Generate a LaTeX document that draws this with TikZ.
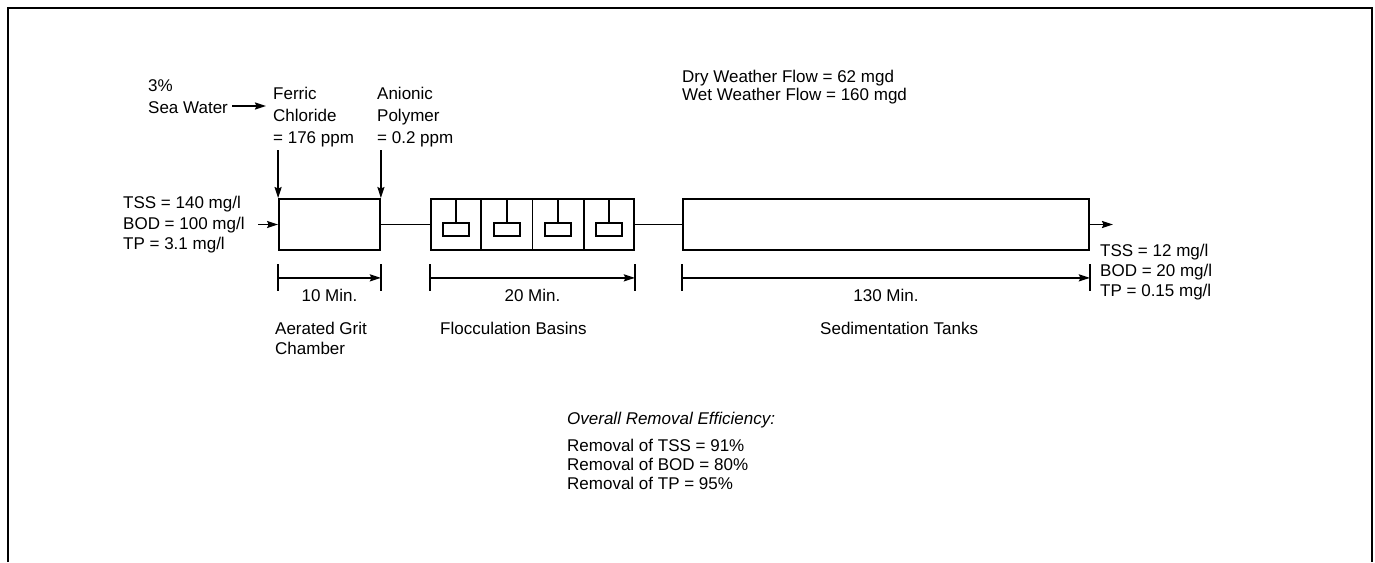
\documentclass[tikz,border=0pt]{standalone}
\usepackage{fontspec}
\setmainfont{Liberation Sans}
\usetikzlibrary{arrows.meta,positioning,calc}

\begin{document}
\begin{tikzpicture}[x=1pt,y=-1pt,font=\fontsize{17}{20}\selectfont,>={Stealth[length=11pt,width=7pt,inset=1.5pt]},
  tank/.style={draw,line width=1.8pt,inner sep=0pt},
  paddle/.style={draw,line width=1.8pt,minimum width=26pt,minimum height=13pt,inner sep=0pt},
  pipe/.style={line width=1.8pt},
  lbl/.style={inner sep=0pt,align=left,anchor=north west}]
\useasboundingbox (0,0) rectangle (1375,562);
\draw[line width=2pt] (8,562)--(8,8)--(1372,8)--(1372,562);
% tanks
\node[tank,minimum width=101pt,minimum height=51pt] (grit) at (329.5,224.5) {};
\node[tank,minimum width=203pt,minimum height=51pt] (floc) at (532.5,224.5) {};
\node[tank,minimum width=406pt,minimum height=51pt] (sed) at (886,224.5) {};
\foreach \i in {1,2,3}
  \draw[pipe] ($(floc.north west)!\i/4!(floc.north east)$) -- ($(floc.south west)!\i/4!(floc.south east)$);
\foreach \i [evaluate=\i as \f using (2*\i-1)/8] in {1,...,4}{
  \node[paddle] (pad\i) at ($(floc.north west)!\f!(floc.north east)+(0,31.5)$) {};
  \draw[pipe] (pad\i.north) -- (pad\i.north |- floc.north);
}
% flow line
\coordinate (in) at (258,224.5);\coordinate (out) at (1113,224.5);
\draw[pipe,->] (in)--(grit.west);
\draw[pipe] (grit.east)--(floc.west);
\draw[pipe] (floc.east)--(sed.west);
\draw[pipe,->] (sed.east)--(out);
% dosing
\node[lbl] (seawater) at (148,79) {3\%\\[2pt]Sea Water};
\node[lbl] (ferric) at (273,87) {Ferric\\[2pt]Chloride\\[2pt]= 176 ppm};
\node[lbl] (polymer) at (377,87) {Anionic\\[2pt]Polymer\\[2pt]= 0.2 ppm};
\coordinate (sw) at (232,106);
\draw[pipe,->,shorten >=7pt] (sw)--(ferric.west |- sw);
\coordinate (dose1) at (grit.north west |- 0,150);\coordinate (dose2) at (grit.north east |- 0,150);
\draw[pipe,->] (dose1)--(grit.north west);
\draw[pipe,->] (dose2)--(grit.north east);
% detention times
\foreach \t/\m in {grit/10 Min.,floc/20 Min.,sed/130 Min.}{
  \coordinate (\t-l) at ([yshift=-27pt]\t.south west);
  \coordinate (\t-r) at ([yshift=-27pt]\t.south east);
  \draw[pipe] ([yshift=13.5pt]\t-l)--([yshift=-13.5pt]\t-l);
  \draw[pipe] ([yshift=13.5pt]\t-r)--([yshift=-13.5pt]\t-r);
  \draw[pipe,->] (\t-l)--node[below=10pt,inner sep=0pt]{\m} (\t-r);
}
\node[lbl] (gritname) at (275,322) {Aerated Grit\\Chamber};
\node[lbl] (flocname) at (440,322) {Flocculation Basins};
\node[lbl] (sedname) at (820,322) {Sedimentation Tanks};
% water quality
\node[lbl] (influent) at (123,196) {TSS = 140 mg/l\\[0.5pt]BOD = 100 mg/l\\[0.5pt]TP = 3.1 mg/l};
\node[lbl] (effluent) at (1100,244) {TSS = 12 mg/l\\BOD = 20 mg/l\\TP = 0.15 mg/l};
\node[lbl] (flow) at (682,70) {Dry Weather Flow = 62 mgd\\[-2pt]Wet Weather Flow = 160 mgd};
\node[lbl,font=\fontsize{17}{20}\selectfont\itshape] (effhead) at (567,412) {Overall Removal Efficiency:};
\node[lbl,below=11pt of effhead.south west,anchor=north west,font=\fontsize{17}{19}\selectfont] (effrem) {Removal of TSS = 91\%\\Removal of BOD = 80\%\\Removal of TP = 95\%};
\end{tikzpicture}
\end{document}
